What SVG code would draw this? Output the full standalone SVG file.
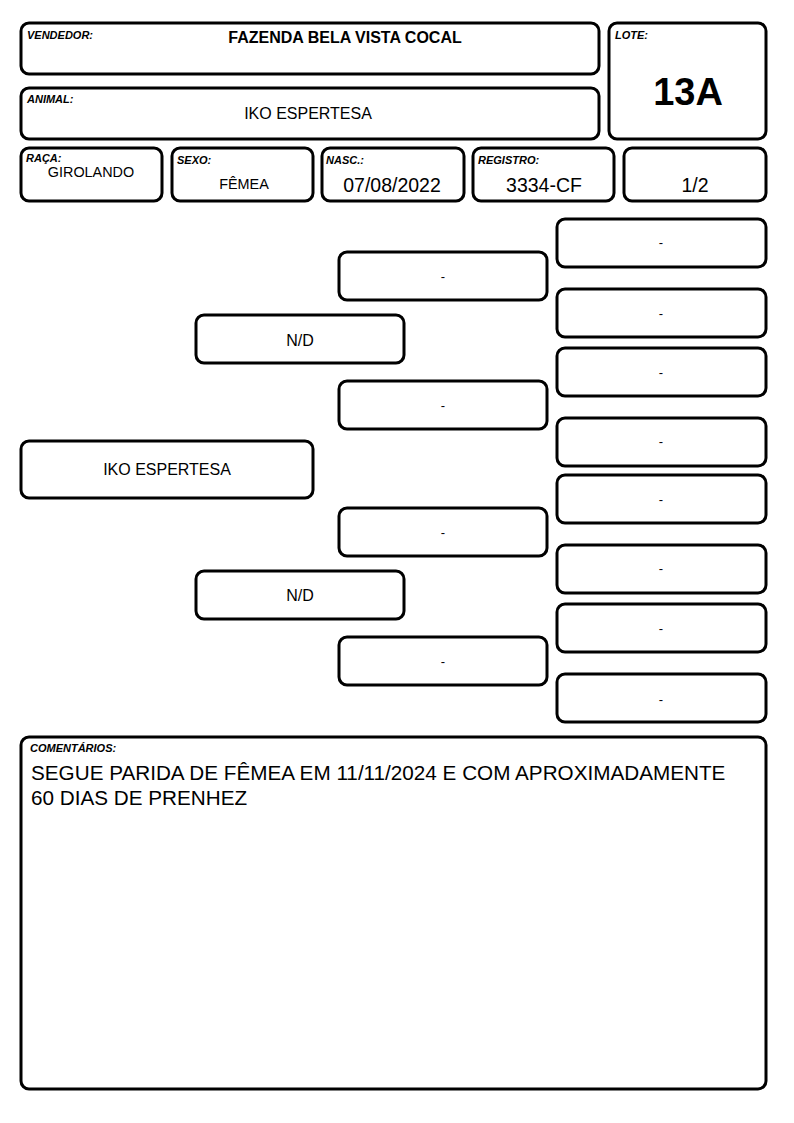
<svg xmlns="http://www.w3.org/2000/svg" width="794" height="1123" viewBox="0 0 794 1123">
<style>
rect.b{fill:#fff;stroke:#000;stroke-width:3;}
text{font-family:"Liberation Sans",Arial,sans-serif;fill:#000;}
.lbl{font-size:11px;font-weight:bold;font-style:italic;}
.val{font-size:16px;text-anchor:middle;}
.sm{font-size:14.4px;text-anchor:middle;}
.big{font-size:19.5px;text-anchor:middle;}
.ped{font-size:16px;text-anchor:middle;}
.dash{font-size:13px;text-anchor:middle;}
.com{font-size:20.7px;}
</style>
<rect width="794" height="1123" fill="#fff"/>
<g id="vendedor"><rect class="b" x="21" y="23" width="578" height="51" rx="8"/><text class="lbl" x="27" y="39">VENDEDOR:</text><text class="val" x="345" y="43" font-weight="bold">FAZENDA BELA VISTA COCAL</text></g>
<g id="animal"><rect class="b" x="21" y="88" width="578" height="51" rx="8"/><text class="lbl" x="27" y="103">ANIMAL:</text><text class="val" x="308" y="119">IKO ESPERTESA</text></g>
<g id="lote"><rect class="b" x="609" y="23" width="157" height="116" rx="8"/><text class="lbl" x="615" y="39">LOTE:</text><text x="688" y="105" font-size="38" font-weight="bold" text-anchor="middle">13A</text></g>
<g id="raca"><rect class="b" x="21" y="148" width="141" height="53" rx="8"/><text class="lbl" x="26" y="162">RAÇA:</text><text class="sm" x="91" y="177">GIROLANDO</text></g>
<g id="sexo"><rect class="b" x="172" y="148" width="141" height="53" rx="8"/><text class="lbl" x="177" y="164">SEXO:</text><text class="sm" x="244" y="189">FÊMEA</text></g>
<g id="nasc"><rect class="b" x="322" y="148" width="142" height="53" rx="8"/><text class="lbl" x="326" y="164">NASC.:</text><text class="big" x="392" y="192">07/08/2022</text></g>
<g id="registro"><rect class="b" x="473" y="148" width="141" height="53" rx="8"/><text class="lbl" x="478" y="164">REGISTRO:</text><text class="big" x="544" y="192">3334-CF</text></g>
<g id="pagina"><rect class="b" x="624" y="148" width="142" height="53" rx="8"/><text class="big" x="695" y="192">1/2</text></g>
<g id="animal-ped"><rect class="b" x="21" y="441" width="292" height="57" rx="8"/><text class="ped" x="167" y="475">IKO ESPERTESA</text></g>
<g id="pai"><rect class="b" x="196" y="315" width="208" height="48" rx="8"/><text class="ped" x="300" y="346">N/D</text></g>
<g id="mae"><rect class="b" x="196" y="571" width="208" height="48" rx="8"/><text class="ped" x="300" y="601">N/D</text></g>
<g id="avo1"><rect class="b" x="339" y="252" width="208" height="48" rx="8"/><text class="dash" x="443" y="281">-</text></g>
<g id="avo2"><rect class="b" x="339" y="381" width="208" height="48" rx="8"/><text class="dash" x="443" y="410">-</text></g>
<g id="avo3"><rect class="b" x="339" y="508" width="208" height="48" rx="8"/><text class="dash" x="443" y="537">-</text></g>
<g id="avo4"><rect class="b" x="339" y="637" width="208" height="48" rx="8"/><text class="dash" x="443" y="666">-</text></g>
<g id="bis1"><rect class="b" x="557" y="219" width="209" height="48" rx="8"/><text class="dash" x="661" y="247">-</text></g>
<g id="bis2"><rect class="b" x="557" y="289" width="209" height="48" rx="8"/><text class="dash" x="661" y="318">-</text></g>
<g id="bis3"><rect class="b" x="557" y="348" width="209" height="48" rx="8"/><text class="dash" x="661" y="377">-</text></g>
<g id="bis4"><rect class="b" x="557" y="418" width="209" height="48" rx="8"/><text class="dash" x="661" y="446">-</text></g>
<g id="bis5"><rect class="b" x="557" y="475" width="209" height="48" rx="8"/><text class="dash" x="661" y="504">-</text></g>
<g id="bis6"><rect class="b" x="557" y="545" width="209" height="48" rx="8"/><text class="dash" x="661" y="573">-</text></g>
<g id="bis7"><rect class="b" x="557" y="604" width="209" height="48" rx="8"/><text class="dash" x="661" y="633">-</text></g>
<g id="bis8"><rect class="b" x="557" y="674" width="209" height="48" rx="8"/><text class="dash" x="661" y="704">-</text></g>
<g id="comentarios"><rect class="b" x="21" y="737" width="745" height="352" rx="8"/><text class="lbl" x="30" y="752">COMENTÁRIOS:</text><text class="com" x="31" y="780">SEGUE PARIDA DE FÊMEA EM 11/11/2024 E COM APROXIMADAMENTE</text><text class="com" x="31" y="805">60 DIAS DE PRENHEZ</text></g>
<g id="connectors"></g>
</svg>
